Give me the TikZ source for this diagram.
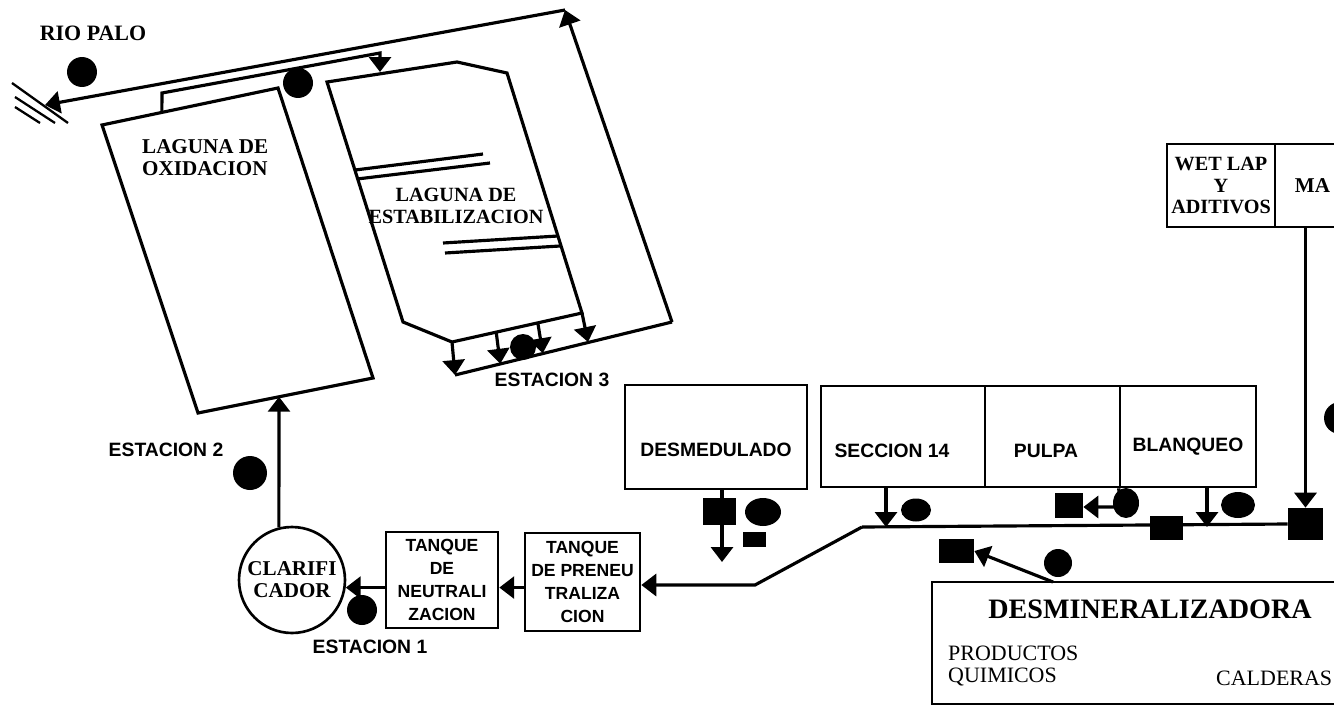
\documentclass[tikz,border=0pt]{standalone}
\usepackage{fontspec}
\setmainfont{Liberation Serif}
\setsansfont{Liberation Sans}
\usetikzlibrary{arrows.meta,calc,shapes.geometric}
\tikzset{
  pipe/.style={line width=1.8pt},
  flow/.style={pipe, -{Triangle[width=12.5pt,length=8.5pt]}},
  box/.style={draw, line width=1.5pt, inner sep=1pt, align=center},
  blob/.style={circle, fill=black, inner sep=0pt, minimum size=#1},
  blob/.default=0.6cm,
  oval/.style={ellipse, fill=black, inner sep=0pt},
  sq/.style={rectangle, fill=black, inner sep=0pt},
  sanslbl/.style={font=\sffamily\bfseries\fontsize{11}{13}\selectfont},
  tanklbl/.style={font=\sffamily\bfseries\fontsize{10}{13}\selectfont, align=center},
  serlbl/.style={font=\rmfamily\bfseries\fontsize{12}{12.5}\selectfont, align=center}
}

\begin{document}
\begin{tikzpicture}[x=0.02cm, y=-0.02cm]
    \useasboundingbox (0,0) rectangle (1334,706);
    \clip (0,0) rectangle (1334,706);

    % Lagoon corners
    \coordinate (oxTL) at (102,125);
    \coordinate (oxTR) at (278,88);
    \coordinate (oxBR) at (373,378);
    \coordinate (oxBL) at (198,413);
    \coordinate (stTL) at (327,82);
    \coordinate (stTM) at (457,62);
    \coordinate (stTR) at (507,73);
    \coordinate (stBR) at (582,313);
    \coordinate (stBL) at (452,342);
    \coordinate (stCL) at (403,322);

    % Channel and river
    \coordinate (rio) at (45,105);
    \coordinate (topC) at (565,10);
    \coordinate (chC) at (672,322);
    \coordinate (chL) at (455,375);
    \coordinate (chM) at (588,342);
    \coordinate (inA) at (162,93);
    \coordinate (inB) at (380,53);
    \coordinate (inC) at (380,72);

    % Lagoons
    \draw[pipe] (oxTL) -- (oxTR) -- (oxBR) -- (oxBL) -- cycle;
    \draw[pipe] (stTL) -- (stTM) -- (stTR) -- (stBR) -- (stBL) -- (stCL) -- cycle;
    \draw[pipe] (355,170) -- (483,154);
    \draw[pipe] (357,179) -- (490,163);
    \draw[pipe] (443,243) -- (558,236);
    \draw[pipe] (445,253) -- (560,246);

    % River bank
    \draw[line width=1.3pt] (12,83) -- (68,123);
    \draw[line width=1.3pt] (15,97) -- (55,123);
    \draw[line width=1.3pt] (15,107) -- (40,123);

    % Outflow to the river
    \draw[pipe] (chL) -- (chC);
    \draw[flow] (chC) -- (topC);
    \draw[flow] (topC) -- (rio);
    \draw[flow] ($(oxTL)!0.34!(oxTR)$) -- (inA) -- (inB) -- (inC);
    \foreach \t in {0,0.34,0.66,1}
      \draw[flow] ($(stBL)!\t!(stBR)$) -- ($(chL)!\t!(chM)$);

    % Lagoon labels
    \node[serlbl, font=\rmfamily\bfseries\fontsize{12.5}{13}\selectfont] (rioLbl) at (93,33) {RIO PALO};
    \node[serlbl, align=left, anchor=west] (oxLbl) at (136,158) {LAGUNA DE\\OXIDACION};
    \node[serlbl, font=\rmfamily\bfseries\fontsize{11.5}{12.5}\selectfont] (stLbl) at (456,206) {LAGUNA DE\\ESTABILIZACION};

    % Treatment units
    \node[box, circle, minimum size=2.12cm, inner sep=0pt, serlbl] (clar) at (292,580) {CLARIFI\\CADOR};
    \node[box, tanklbl, minimum width=2.24cm, minimum height=1.92cm] (neut) at (442,580) {TANQUE\\DE\\NEUTRALI\\ZACION};
    \node[box, tanklbl, minimum width=2.3cm, minimum height=1.96cm] (pren) at (582.5,582) {TANQUE\\DE PRENEU\\TRALIZA\\CION};

    % Plant sections
    \node[box, minimum width=3.64cm, minimum height=2.08cm, label={[sanslbl, yshift=-0.26cm]center:DESMEDULADO}] (desm) at (716,437) {};
    \node[box, minimum width=3.28cm, minimum height=2.02cm, label={[sanslbl, xshift=-0.22cm, yshift=-0.29cm]center:SECCION 14}] (sec) at (903,436.5) {};
    \node[box, minimum width=2.7cm, minimum height=2.02cm, label={[sanslbl, xshift=-0.13cm, yshift=-0.29cm]center:PULPA}] (pulpa) at (1052.5,436.5) {};
    \node[box, minimum width=2.72cm, minimum height=2.02cm, label={[sanslbl, yshift=-0.21cm]center:BLANQUEO}] (blan) at (1188,436.5) {};
    \node[box, inner sep=0pt, minimum width=2.16cm, minimum height=1.66cm, font=\rmfamily\bfseries\fontsize{11.5}{12.5}\selectfont] (wet) at (1221,185.5) {WET LAP\\Y\\ADITIVOS};
    \node[box, minimum width=2.5cm, minimum height=1.66cm, label={[serlbl, anchor=west, xshift=0.3cm]west:MA}] (ma) at (1337.5,185.5) {};
    \node[box, minimum width=9.36cm, minimum height=2.44cm] (desmin) at (1166,643) {};
    \node[font=\rmfamily\bfseries\fontsize{16}{18}\selectfont] (dmTitle) at (1150,609) {DESMINERALIZADORA};
    \node[font=\rmfamily\fontsize{12.5}{12.5}\selectfont, align=left, anchor=west] (prod) at (942,666) {PRODUCTOS\\QUIMICOS};
    \node[font=\rmfamily\fontsize{12.5}{12.5}\selectfont, anchor=west] (cald) at (1210,678) {CALDERAS};

    % Stations
    \node[sanslbl] (est1) at (370,647) {ESTACION 1};
    \node[sanslbl] (est2) at (166,450) {ESTACION 2};
    \node[sanslbl] (est3) at (552,380) {ESTACION 3};

    % Collector points
    \coordinate (collW) at (862,527);
    \coordinate (kink) at (755,585);
    \coordinate (c1) at (886,527);
    \coordinate (c2) at (1207,527);
    \coordinate (pcorner) at (1120,507);
    \coordinate (desmOut) at (722,562);
    \coordinate (dmOut) at (1053,582);

    % Valves
    \node[sq, minimum width=0.66cm, minimum height=0.48cm] (sqC) at (1166.5,528) {};
    \node[sq, minimum width=0.7cm, minimum height=0.64cm] (sqR) at (1305.5,524) {};
    \node[sq, minimum width=0.66cm, minimum height=0.54cm] (sqM) at (719.5,511.5) {};
    \node[sq, minimum width=0.46cm, minimum height=0.3cm] (sqS) at (754.5,539.5) {};
    \node[sq, minimum width=0.56cm, minimum height=0.5cm] (sqP) at (1069,505.5) {};
    \node[sq, minimum width=0.7cm, minimum height=0.48cm] (sqD) at (956.5,551) {};

    % Sampling points
    \node[blob] (bRio) at (82,72) {};
    \node[blob] (bLag) at (298,83) {};
    \node[blob=0.68cm] (bEst2) at (250,473) {};
    \node[blob] (bEst1) at (362,610) {};
    \node[blob=0.52cm] (bEst3) at (523,347) {};
    \node[oval, minimum width=0.72cm, minimum height=0.56cm] (bDesm) at (763,512) {};
    \node[oval, minimum width=0.6cm, minimum height=0.46cm] (bSec) at (916,510) {};
    \node[oval, minimum width=0.52cm, minimum height=0.6cm] (bPulpa) at (1126,503) {};
    \node[oval, minimum width=0.68cm, minimum height=0.52cm] (bBlan) at (1238,505) {};
    \node[blob=0.56cm] (bDm) at (1058,563) {};
    \node[blob=0.64cm] (bMa) at (1340,418) {};

    % Flows
    \draw[flow] (clar.104) -- ($(oxBL)!0.463!(oxBR)$);
    \draw[flow] (neut.west |- clar.-8) -- (clar.-8);
    \draw[flow] (pren.west |- clar.-8) -- (neut.east |- clar.-8);
    \draw[flow] (collW) -- (kink) -- (pren.east |- kink);
    \draw[pipe] (collW) -- (sqR.west);
    \draw[flow] (desm.south -| desmOut) -- (desmOut);
    \draw[flow] (sec.south -| c1) -- (c1);
    \draw[flow] (blan.south west) -- (pcorner) -- (sqP.east |- pcorner);
    \draw[flow] (blan.south -| c2) -- (c2);
    \draw[flow] (ma.south -| sqR.north) -- (sqR.north);
    \draw[flow] (dmOut) -- (sqD.east);

\end{tikzpicture}
\end{document}
